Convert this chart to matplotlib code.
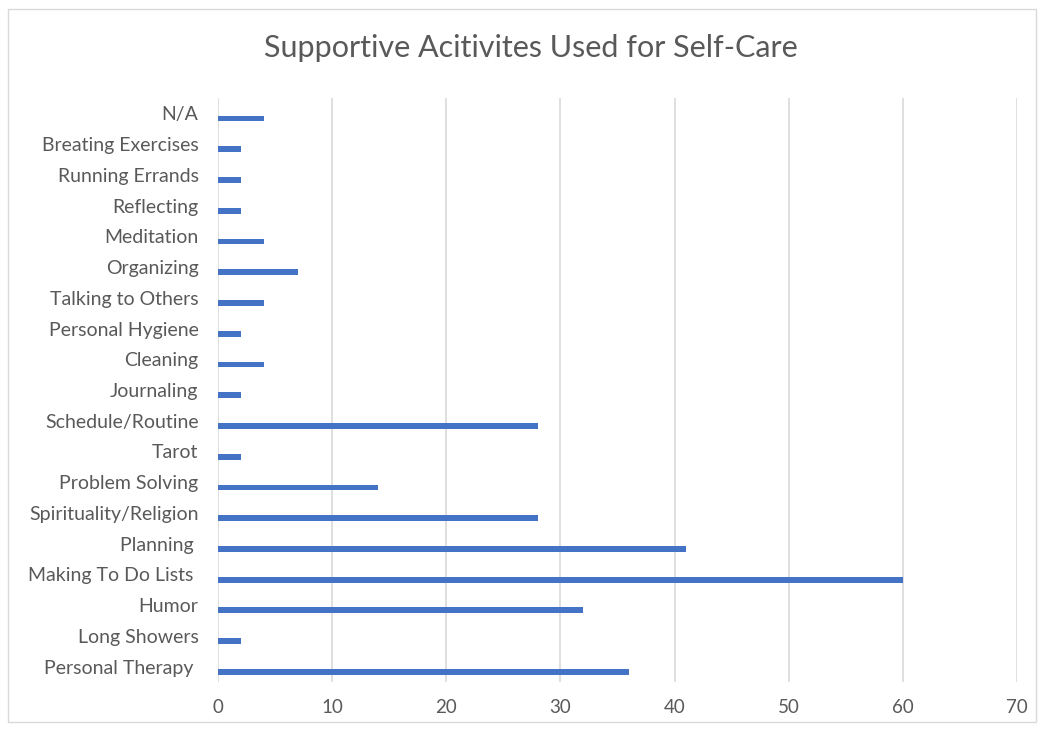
import matplotlib
matplotlib.use("Agg")
import matplotlib.pyplot as plt
import numpy as np
from matplotlib.patches import Rectangle

categories = ["Personal Therapy ", "Long Showers", "Humor", "Making To Do Lists ", "Planning ",
              "Spirituality/Religion", "Problem Solving", "Tarot", "Schedule/Routine", "Journaling",
              "Cleaning", "Personal Hygiene", "Talking to Others", "Organizing", "Meditation",
              "Reflecting", "Running Errands", "Breating Exercises", "N/A"]
values = [36, 2, 32, 60, 41, 28, 14, 2, 28, 2, 4, 2, 4, 7, 4, 2, 2, 2, 4]
xticks = [0, 10, 20, 30, 40, 50, 60, 70]

plt.rcParams['font.family'] = ['Lato', 'DejaVu Sans']
gray = '#595959'

fig = plt.figure(figsize=(10.43, 7.31), dpi=100)
fig.patches.append(Rectangle((0.008, 0.012), 0.985, 0.976, transform=fig.transFigure,
                             fill=False, edgecolor='#d9d9d9', linewidth=1))
ax = fig.add_axes([0.209, 0.067, 0.766, 0.799])

y = np.arange(len(categories))
ax.barh(y - 0.17, values, height=0.19, color='#4472C4', zorder=3)
ax.set_ylim(-0.5, len(categories) - 0.5)
ax.set_xlim(0, 70)
ax.set_xticks(xticks)
ax.set_yticks(y)
ax.set_yticklabels(categories)
ax.grid(axis='x', color='#d9d9d9', linewidth=1.2, zorder=0)
for s in ax.spines.values():
    s.set_visible(False)
ax.tick_params(axis='both', length=0, colors=gray)
ax.tick_params(axis='y', pad=14, labelsize=14)
ax.tick_params(axis='x', pad=12, labelsize=13.5)
fig.text(0.509, 0.935, "Supportive Acitivites Used for Self-Care", ha='center', va='center',
         fontsize=22, color=gray)
fig.savefig("out.png", dpi=100)
